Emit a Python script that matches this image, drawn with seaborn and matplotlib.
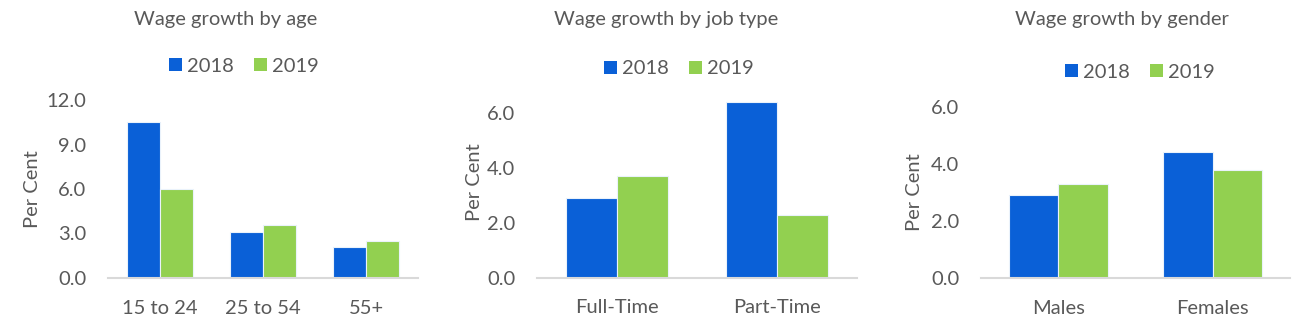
import matplotlib
matplotlib.use("Agg")
import matplotlib.pyplot as plt
import seaborn as sns
import pandas as pd
from matplotlib.patches import Patch

# ---- data ----
years = ["2018", "2019"]

age_categories = ["15 to 24", "25 to 54", "55+"]
age_2018 = [10.5, 3.1, 2.1]
age_2019 = [6.0, 3.6, 2.5]

job_categories = ["Full-Time", "Part-Time"]
job_2018 = [2.9, 6.4]
job_2019 = [3.7, 2.3]

gender_categories = ["Males", "Females"]
gender_2018 = [2.9, 4.4]
gender_2019 = [3.3, 3.8]

titles = ["Wage growth by age", "Wage growth by job type", "Wage growth by gender"]
y_ticks = [[0, 3, 6, 9, 12], [0, 2, 4, 6], [0, 2, 4, 6]]
y_max = [12, 7, 6]

BLUE = "#0A60D7"
GREEN = "#92D050"
TEXT = "#595959"
AXIS = "#D9D9D9"

sns.set_theme(style="white")
plt.rcParams["font.family"] = ["Lato", "DejaVu Sans"]

W, H = 1300, 331
fig = plt.figure(figsize=(W / 100, H / 100), dpi=100)

def frame(l, r, b, t):
    return [l / W, 1 - b / H, (r - l) / W, (b - t) / H]

# per panel: axes rect (left, right, bottom, top px), title cx, legend cx, cy, ylabel cx, cy
panels = [
    dict(cats=age_categories, v18=age_2018, v19=age_2019, rect=(108, 418, 278, 100),
         tcx=226, lcx=244, lcy=66, ylx=33, yly=189),
    dict(cats=job_categories, v18=job_2018, v19=job_2019, rect=(537, 857, 277.7, 86),
         tcx=666, lcx=679, lcy=69, ylx=474, yly=182),
    dict(cats=gender_categories, v18=gender_2018, v19=gender_2019, rect=(981, 1290, 278.3, 106.7),
         tcx=1122, lcx=1140, lcy=72, ylx=914, yly=192),
]

for i, p in enumerate(panels):
    ax = fig.add_axes(frame(*p["rect"]))
    df = pd.DataFrame({
        "category": p["cats"] * 2,
        "year": [years[0]] * len(p["cats"]) + [years[1]] * len(p["cats"]),
        "value": p["v18"] + p["v19"],
    })
    sns.barplot(data=df, x="category", y="value", hue="year", order=p["cats"],
                hue_order=years, palette=[BLUE, GREEN], saturation=1, width=0.64, gap=0,
                edgecolor="#EAF2FB", linewidth=0.8, ax=ax, legend=False)
    ax.set_xlim(-0.5, len(p["cats"]) - 0.5)
    ax.set_ylim(0, y_max[i])
    ax.set_yticks(y_ticks[i])
    ax.set_yticklabels([f"{v:.1f}" for v in y_ticks[i]])
    ax.set_xlabel("")
    ax.set_ylabel("")
    for s in ["top", "right", "left"]:
        ax.spines[s].set_visible(False)
    ax.spines["bottom"].set_color(AXIS)
    ax.spines["bottom"].set_linewidth(1.5)
    ax.tick_params(axis="y", length=0, pad=15.5, labelsize=14.5, labelcolor=TEXT)
    ax.tick_params(axis="x", length=0, pad=15.5, labelsize=14.5, labelcolor=TEXT)
    ax.grid(False)

    fig.text(p["tcx"] / W, 1 - 19 / H, titles[i], ha="center", va="center",
             fontsize=14.5, color=TEXT)
    fig.text(p["ylx"] / W, 1 - p["yly"] / H, "Per Cent", ha="center", va="center",
             rotation=90, fontsize=14.5, color=TEXT)
    handles = [Patch(facecolor=BLUE, edgecolor="none"), Patch(facecolor=GREEN, edgecolor="none")]
    fig.legend(handles, years, loc="center", bbox_to_anchor=(p["lcx"] / W, 1 - p["lcy"] / H),
               ncol=2, frameon=False, fontsize=14.5, labelcolor=TEXT,
               handlelength=0.65, handleheight=0.65, handletextpad=0.25,
               columnspacing=1.0, borderpad=0, borderaxespad=0)

fig.savefig("out.png", dpi=100, facecolor="white")
